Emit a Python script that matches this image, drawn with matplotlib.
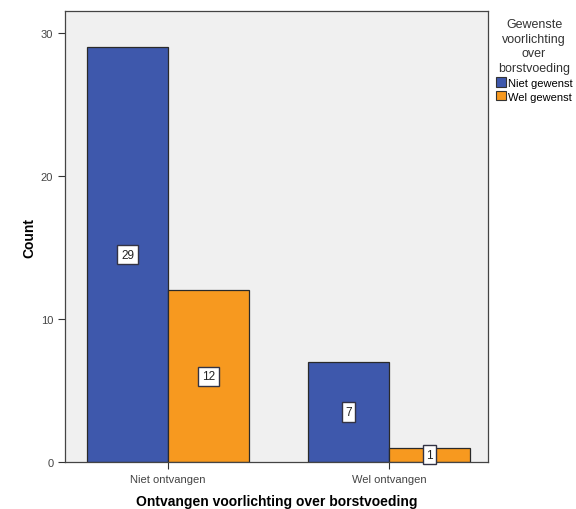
import numpy as np
import matplotlib.pyplot as plt
from matplotlib.patches import Patch

plt.rcParams['font.family'] = ['Liberation Sans', 'DejaVu Sans']

categories = ['Niet ontvangen', 'Wel ontvangen']
series_names = ['Niet gewenst', 'Wel gewenst']
niet_gewenst = [29, 7]
wel_gewenst = [12, 1]
colors = ['#3E58AC', '#F7991F']

fig = plt.figure(figsize=(5.76, 5.1), dpi=100)
ax = fig.add_axes([0.113, 0.092, 0.734, 0.884])
ax.set_facecolor('#F0F0F0')

x = np.arange(len(categories))
width = 0.367
for offset, vals, col in [(-width / 2, niet_gewenst, colors[0]), (width / 2, wel_gewenst, colors[1])]:
    bars = ax.bar(x + offset, vals, width, color=col, edgecolor='#2a2a2a', linewidth=0.9, zorder=2)
    for b, v in zip(bars, vals):
        ax.text(b.get_x() + b.get_width() / 2, v / 2, str(v), ha='center', va='center',
                fontsize=8.5, color='#222222', zorder=3,
                bbox=dict(boxstyle='square,pad=0.3', fc='white', ec='#333344', lw=1.0))

ax.set_xlim(-0.466, 1.448)
ax.set_ylim(0, 31.5)
ax.set_yticks([0, 10, 20, 30])
ax.set_xticks(x)
ax.set_xticklabels(categories)
ax.tick_params(axis='both', labelsize=8, labelcolor='#444444', colors='#333333', length=5, width=0.8)
for s in ax.spines.values():
    s.set_color('#444444')
    s.set_linewidth(0.9)

ax.set_ylabel('Count', fontsize=10, fontweight='bold', labelpad=3)
ax.set_xlabel('Ontvangen voorlichting over borstvoeding', fontsize=10, fontweight='bold', labelpad=7)

handles = [Patch(facecolor=c, edgecolor='#333333', linewidth=0.8) for c in colors]
leg = fig.legend(handles, series_names, title='Gewenste\nvoorlichting\nover\nborstvoeding',
                 loc='upper left', bbox_to_anchor=(0.847, 0.978), frameon=False,
                 fontsize=8, title_fontsize=9, handlelength=0.9, handleheight=0.9,
                 handletextpad=0.2, borderpad=0.2, labelspacing=0.3)
leg.get_title().set_multialignment('center')
leg.get_title().set_color('#333333')
leg.get_title().set_linespacing(1.3)

fig.savefig('out.png', dpi=100)
